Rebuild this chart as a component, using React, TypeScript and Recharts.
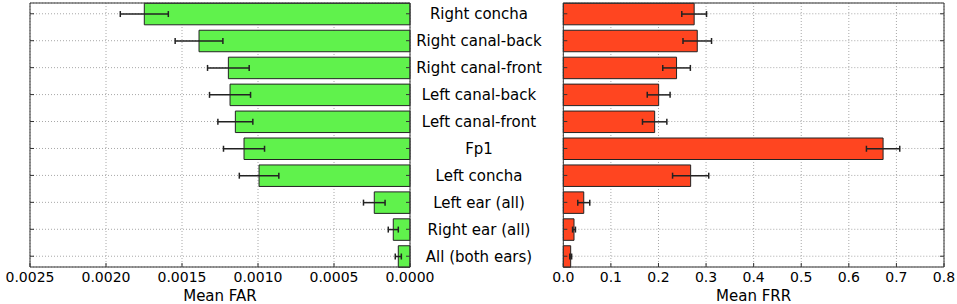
import React from 'react';
import { BarChart, Bar, XAxis, YAxis, CartesianGrid, ErrorBar } from 'recharts';

const categories = [
  'Right concha',
  'Right canal-back',
  'Right canal-front',
  'Left canal-back',
  'Left canal-front',
  'Fp1',
  'Left concha',
  'Left ear (all)',
  'Right ear (all)',
  'All (both ears)',
];
const farMean = [0.001748, 0.001388, 0.001195, 0.001184, 0.001149, 0.001092, 0.000993, 0.000235, 0.00011, 0.000077];
const farErr = [0.000158, 0.000157, 0.000137, 0.000135, 0.000115, 0.000135, 0.00013, 0.000071, 0.000033, 0.00002];
const frrMean = [0.275, 0.2815, 0.238, 0.2004, 0.192, 0.672, 0.2676, 0.043, 0.0225, 0.0155];
const frrErr = [0.026, 0.03, 0.029, 0.024, 0.0256, 0.035, 0.038, 0.0126, 0.003, 0.002];
const farTicks = [0, 0.0005, 0.001, 0.0015, 0.002, 0.0025];
const frrTicks = [0, 0.1, 0.2, 0.3, 0.4, 0.5, 0.6, 0.7, 0.8];

const data = categories.map((name, i) => ({
  name,
  far: farMean[i],
  farErr: farErr[i],
  frr: frrMean[i],
  frrErr: frrErr[i],
}));

const W = 957;
const H = 304;
const TOP = 3;
const BOT = 267;
const L1 = 30;
const R1 = 410;
const L2 = 563.3;
const R2 = 944;
const LABEL_X = 479;
const TL = 4;
const AX = 1;
const FONT = '"DejaVu Sans", sans-serif';
const FRAME = '#333';
const GRID = '#a8a8a8';

const makeBottomTick = (fmt: (v: number) => string) => (props: any) => {
  const { x, payload } = props;
  return (
    <g>
      <line x1={x} x2={x} y1={BOT} y2={BOT - TL} stroke={FRAME} />
      <text x={x} y={BOT + 10} dy="0.355em" textAnchor="middle" fontSize={14} fontFamily={FONT} fill="#000">
        {fmt(payload.value)}
      </text>
    </g>
  );
};

const TopTick = (props: any) => {
  const { x } = props;
  return <line x1={x} x2={x} y1={TOP} y2={TOP + TL} stroke={FRAME} />;
};

const makeSideTick = (edge: number, dir: number, withLabel: boolean) => (props: any) => {
  const { y, payload } = props;
  return (
    <g>
      <line x1={edge} x2={edge + dir * TL} y1={y} y2={y} stroke={FRAME} />
      {withLabel ? (
        <text x={LABEL_X} y={y} dy="0.355em" textAnchor="middle" fontSize={15} fontFamily={FONT} fill="#000">
          {payload.value}
        </text>
      ) : null}
    </g>
  );
};

const makeTitle = (title: string) => (props: any) => {
  const vb = props.viewBox || {};
  const cx = (vb.x || 0) + (vb.width || 0) / 2;
  return (
    <text x={cx} y={BOT + 29} dy="0.355em" textAnchor="middle" fontSize={15} fontFamily={FONT} fill="#000">
      {title}
    </text>
  );
};

const yPad = { top: -2.7, bottom: -2.7 };

type PanelProps = {
  left: number;
  right: number;
  dataKey: string;
  errKey: string;
  domain: [number, number];
  ticks: number[];
  reversed: boolean;
  fmt: (v: number) => string;
  title: string;
  fill: string;
  labels: boolean;
};

function Panel(p: PanelProps) {
  return (
    <div style={{ position: 'absolute', left: 0, top: 0 }}>
      <BarChart
        width={W}
        height={H}
        layout="vertical"
        data={data}
        margin={{ top: TOP - AX, right: W - p.right - AX, bottom: 0, left: p.left - AX }}
      >
        <XAxis
          xAxisId="b"
          type="number"
          domain={p.domain}
          ticks={p.ticks}
          reversed={p.reversed}
          height={H - BOT}
          tickLine={false}
          tickSize={0}
          stroke={FRAME}
          tick={makeBottomTick(p.fmt)}
          interval={0}
          label={makeTitle(p.title)}
        />
        <XAxis
          xAxisId="t"
          orientation="top"
          type="number"
          domain={p.domain}
          ticks={p.ticks}
          reversed={p.reversed}
          height={AX}
          tickLine={false}
          tickSize={0}
          stroke={FRAME}
          tick={TopTick}
          interval={0}
        />
        <YAxis
          yAxisId="l"
          type="category"
          dataKey="name"
          width={AX}
          padding={yPad}
          tickLine={false}
          tickSize={0}
          stroke={FRAME}
          tick={makeSideTick(p.left, 1, p.labels)}
          interval={0}
        />
        <YAxis
          yAxisId="r"
          orientation="right"
          type="category"
          dataKey="name"
          width={AX}
          padding={yPad}
          tickLine={false}
          tickSize={0}
          stroke={FRAME}
          tick={makeSideTick(p.right, -1, false)}
          interval={0}
        />
        <Bar xAxisId="b" yAxisId="l" dataKey={p.dataKey} barSize={21.5} fill={p.fill} stroke="#222" strokeWidth={1} isAnimationActive={false}>
          <ErrorBar dataKey={p.errKey} direction="x" width={3} stroke="#222" strokeWidth={1.5} />
        </Bar>
        <CartesianGrid xAxisId="b" yAxisId="l" stroke={GRID} strokeDasharray="1 2" />
      </BarChart>
    </div>
  );
}

export default function App() {
  return (
    <div style={{ position: 'absolute', left: 0, top: 0, width: W, height: H, background: '#fff' }}>
      <Panel
        left={L1}
        right={R1}
        dataKey="far"
        errKey="farErr"
        domain={[0, 0.0025]}
        ticks={farTicks}
        reversed={true}
        fmt={(v) => v.toFixed(4)}
        title="Mean FAR"
        fill="#60f24c"
        labels={false}
      />
      <Panel
        left={L2}
        right={R2}
        dataKey="frr"
        errKey="frrErr"
        domain={[0, 0.8]}
        ticks={frrTicks}
        reversed={false}
        fmt={(v) => v.toFixed(1)}
        title="Mean FRR"
        fill="#ff4520"
        labels={true}
      />
    </div>
  );
}
